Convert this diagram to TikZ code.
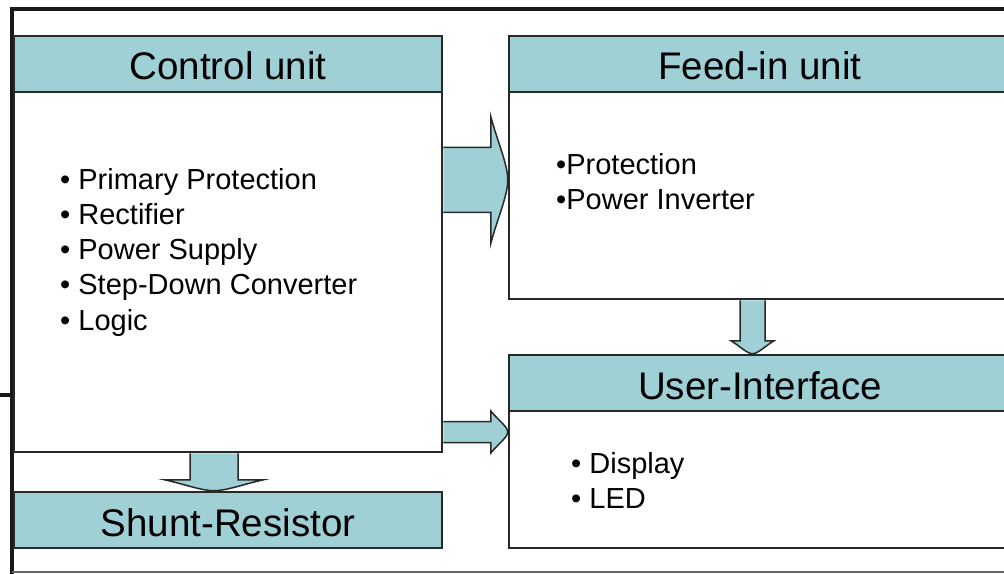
\documentclass[tikz,border=0pt]{standalone}
\usepackage{fontspec}
\setmainfont{Liberation Sans}
\usetikzlibrary{calc}

\definecolor{headteal}{RGB}{158,208,214}
\definecolor{boxline}{RGB}{40,40,40}

\tikzset{
  box/.style={draw=boxline, line width=2.5bp, fill=white, minimum width=428bp, inner sep=0pt},
  head/.style={box, fill=headteal, minimum height=56bp, font=\fontsize{38.5bp}{44bp}\selectfont, text height=32bp, text depth=0pt},
  item/.style={anchor=base west, inner sep=0pt, font=\fontsize{29bp}{35bp}\selectfont},
  blockarrow/.style={draw=boxline, line width=1.5bp, fill=headteal, line join=miter}
}

% block arrow to the right: start, end, half shaft, half head, head length
\newcommand{\rarrow}[5]{%
  \filldraw[blockarrow] let \p1=(#1), \p2=(#2) in
    (\x1,{\y1+#3}) -- ({\x2-#5},{\y1+#3}) -- ({\x2-#5},{\y1+#4})
    .. controls ({\x2-#5*0.6},{\y1+#4*0.6}) and (\x2,{\y1+#4*0.25}) .. (\x2,\y1)
    .. controls (\x2,{\y1-#4*0.25}) and ({\x2-#5*0.6},{\y1-#4*0.6}) .. ({\x2-#5},{\y1-#4})
    -- ({\x2-#5},{\y1-#3}) -- (\x1,{\y1-#3});}
% block arrow downwards
\newcommand{\darrow}[5]{%
  \filldraw[blockarrow] let \p1=(#1), \p2=(#2) in
    ({\x1-#3},\y1) -- ({\x1-#3},{\y2+#5}) -- ({\x1-#4},{\y2+#5})
    .. controls ({\x1-#4*0.6},{\y2+#5*0.6}) and ({\x1-#4*0.25},\y2) .. (\x1,\y2)
    .. controls ({\x1+#4*0.25},\y2) and ({\x1+#4*0.6},{\y2+#5*0.6}) .. ({\x1+#4},{\y2+#5})
    -- ({\x1+#3},{\y2+#5}) -- ({\x1+#3},\y1);}

\begin{document}
\begin{tikzpicture}[x=1bp,y=-1bp]
    \fill[white] (0,0) rectangle (1004,574);
    \clip (0,0) rectangle (1004,574);

    % frame
    \draw[line width=3.5bp, black!90] (1010,9) -- (12,9) -- (12,574);
    \draw[line width=2bp, black!60] (12,572) -- (1010,572);
    \draw[line width=3.5bp, black!90] (0,395) -- (12,395);

    % control unit
    \node[box, minimum height=360bp] (cub) at (228,272) {};
    \node[head] (cuh) at (228,64) {Control unit};
    \foreach \t [count=\i from 0] in {Primary Protection, Rectifier, Power Supply, Step-Down Converter, Logic}
        \node[item] (cu\i) at (60,190+35*\i) {\textbullet\ \t};

    % shunt
    \node[head] (sr) at (228,520) {Shunt-Resistor};

    % feed-in unit
    \node[box, minimum width=502bp, minimum height=207bp] (fib) at (760,195.5) {};
    \node[head, minimum width=502bp] (fih) at (760,64) {Feed-in unit};
    \foreach \t [count=\i from 0] in {Protection, Power Inverter}
        \node[item] (fi\i) at (556,175+35*\i) {\textbullet\t};

    % user interface
    \node[box, minimum width=502bp, minimum height=137bp] (uib) at (760,479.5) {};
    \node[head, minimum width=502bp] (uih) at (760,383) {User-Interface};
    \foreach \t [count=\i from 0] in {Display, LED}
        \node[item] (ui\i) at (571,473+35*\i) {\textbullet\ \t};

    % arrows
    \coordinate (a1s) at (cub.east |- 0,180);
    \coordinate (a1e) at (fib.west |- 0,180);
    \rarrow{a1s}{a1e}{32.5bp}{63.5bp}{17bp}
    \coordinate (a2s) at (cub.east |- 0,432);
    \coordinate (a2e) at (uib.west |- 0,432);
    \rarrow{a2s}{a2e}{10.5bp}{21bp}{17bp}
    \coordinate (a3s) at (cub.south -| 214,0);
    \coordinate (a3e) at (sr.north -| 214,0);
    \darrow{a3s}{a3e}{24bp}{49.5bp}{11bp}
    \coordinate (a4s) at (fib.south -| 752.5,0);
    \coordinate (a4e) at (uih.north -| 752.5,0);
    \darrow{a4s}{a4e}{12.5bp}{21.5bp}{13bp}
\end{tikzpicture}
\end{document}
